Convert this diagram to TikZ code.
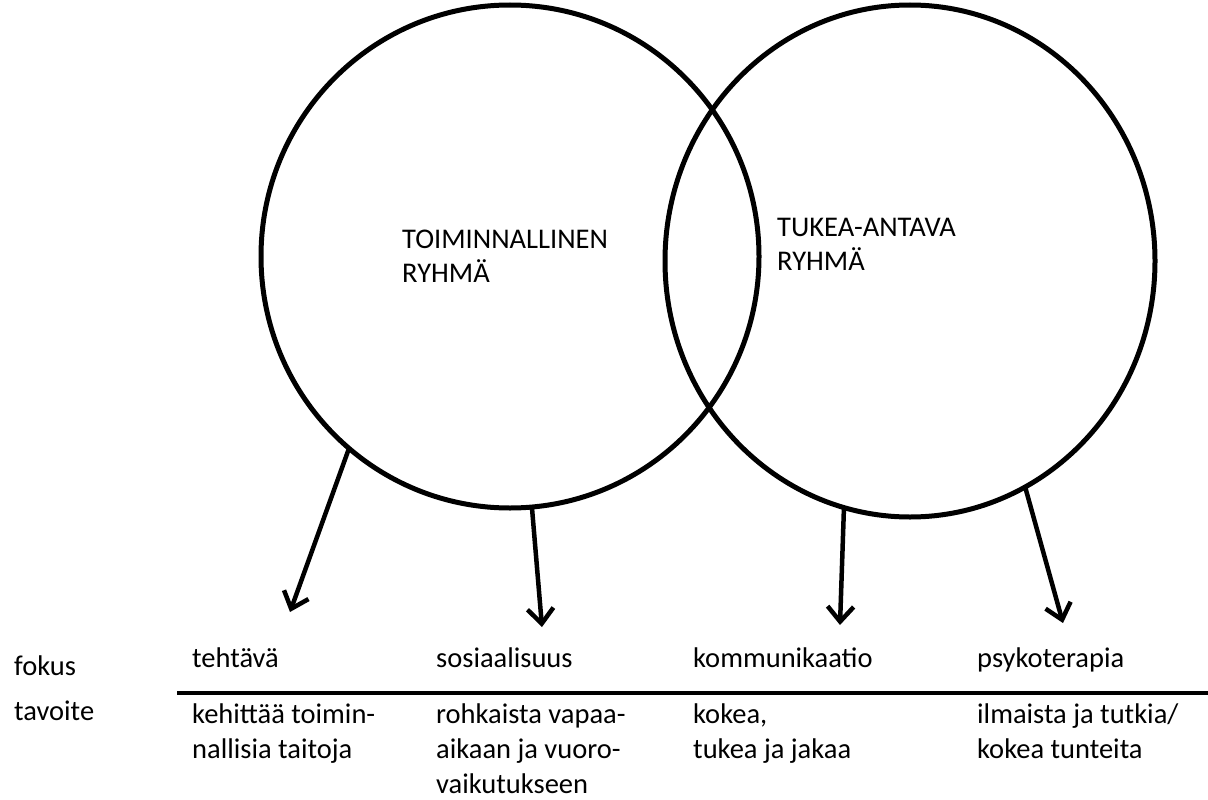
\documentclass[tikz,border=0pt]{standalone}
\usepackage{fontspec}
\setmainfont{Carlito}
\usetikzlibrary{arrows.meta,shapes.geometric}
\tikzset{
  grp/.style={draw, ellipse, line width=5pt, inner sep=0pt, outer sep=0pt},
  arr/.style={line width=4.5pt, -{Straight Barb[length=15pt,width=26pt]}},
  lbl/.style={anchor=base west, inner sep=0pt, font=\fontsize{28.5}{34.5}\selectfont},
}
\begin{document}
\begin{tikzpicture}[x=1pt,y=-1pt]
\useasboundingbox (0,0) rectangle (1208,800);
% circles
\node[grp, minimum width=498pt, minimum height=503pt] (L) at (510,256.5) {};
\node[grp, minimum width=490pt, minimum height=512pt] (R) at (910,261) {};
% circle labels
\node[lbl] (l1) at (402,248) {TOIMINNALLINEN};
\node[lbl] (l2) at (402,282) {RYHMÄ};
\node[lbl] (r1) at (777,236) {TUKEA-ANTAVA};
\node[lbl] (r2) at (777,270) {RYHMÄ};
% arrow tips
\coordinate (t1) at (290,612);
\coordinate (t2) at (542,627);
\coordinate (t3) at (840,625);
\coordinate (t4) at (1063,623);
\draw[arr] (L.230) -- (t1);
\draw[arr] (L.275.5) -- (t2);
\draw[arr] (R.255) -- (t3);
\draw[arr] (R.297) -- (t4);
% table rule
\coordinate (h1) at (177,693);
\coordinate (h2) at (1208,693);
\draw[line width=3.5pt] (h1) -- (h2);
% row headers
\node[lbl] (fokus) at (14,675) {fokus};
\node[lbl] (tavoite) at (14,720) {tavoite};
% focus row
\node[lbl] (f1) at (192,667) {tehtävä};
\node[lbl] (f2) at (436,667) {sosiaalisuus};
\node[lbl] (f3) at (693,667) {kommunikaatio};
\node[lbl] (f4) at (977,667) {psykoterapia};
% goal row
\node[lbl] (g1a) at (192,723) {kehittää toimin-};
\node[lbl] (g1b) at (192,758) {nallisia taitoja};
\node[lbl] (g2a) at (436,723) {rohkaista vapaa-};
\node[lbl] (g2b) at (436,758) {aikaan ja vuoro-};
\node[lbl] (g2c) at (436,793) {vaikutukseen};
\node[lbl] (g3a) at (693,723) {kokea,};
\node[lbl] (g3b) at (693,758) {tukea ja jakaa};
\node[lbl] (g4a) at (977,723) {ilmaista ja tutkia/};
\node[lbl] (g4b) at (977,758) {kokea tunteita};
\end{tikzpicture}
\end{document}
